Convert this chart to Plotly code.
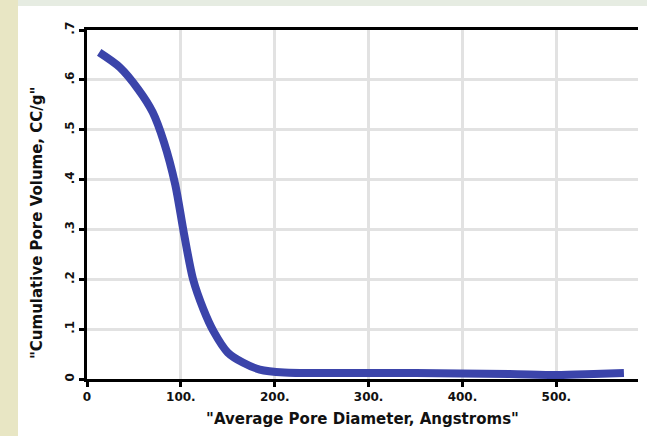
import plotly.graph_objects as go

# Data
diameter = [13, 35, 55, 70, 82, 94, 103, 113, 124, 135, 150, 166, 184, 210, 260, 350, 450, 500, 540, 572]
volume = [0.655, 0.625, 0.58, 0.535, 0.475, 0.39, 0.295, 0.20, 0.14, 0.095, 0.053, 0.033, 0.019, 0.013, 0.012, 0.012, 0.010, 0.008, 0.010, 0.012]

x_tickvals = [0, 100, 200, 300, 400, 500]
x_ticktext = ["0", "100.", "200.", "300.", "400.", "500."]
y_tickvals = [0, 0.1, 0.2, 0.3, 0.4, 0.5, 0.6, 0.7]
y_ticktext = ["0", ".1", ".2", ".3", ".4", ".5", ".6", ".7"]
x_title = '"Average Pore Diameter, Angstroms"'
y_title = '"Cumulative Pore Volume, CC/g"'

W, H = 647, 436
ml, mr, mt, mb = 87, 9, 30, 57
pw, ph = W - ml - mr, H - mt - mb

tick_font = dict(family="DejaVu Sans, sans-serif", size=12, color="#111111", weight="bold")
title_font = dict(family="DejaVu Sans, sans-serif", size=15, color="#111111", weight="bold")

fig = go.Figure()
fig.add_trace(go.Scatter(
    x=diameter, y=volume, mode="lines",
    line=dict(color="#3B44AA", width=8, shape="spline", smoothing=0.8),
    showlegend=False, hoverinfo="skip"))

def px_x(p):
    return (p - ml) / pw

def px_y(p):
    return 1 - (p - mt) / ph

shapes = [
    # left beige strip
    dict(type="rect", xref="paper", yref="paper", x0=px_x(0), x1=px_x(18), y0=px_y(H), y1=px_y(0),
         fillcolor="#E8E6C4", line=dict(width=0), layer="below"),
    # top grey-green strip
    dict(type="rect", xref="paper", yref="paper", x0=px_x(18), x1=px_x(W), y0=px_y(6), y1=px_y(0),
         fillcolor="#E6ECE2", line=dict(width=0), layer="below"),
]

annotations = [
    dict(text=y_title, xref="paper", yref="paper", x=px_x(37), y=px_y(223),
         xanchor="center", yanchor="middle", textangle=-90, showarrow=False, font=title_font),
]

fig.update_layout(
    width=W, height=H,
    margin=dict(l=ml, r=mr, t=mt, b=mb),
    paper_bgcolor="white", plot_bgcolor="white",
    font=tick_font,
    shapes=shapes,
    annotations=annotations,
    xaxis=dict(
        range=[0, 587], tickvals=x_tickvals, ticktext=x_ticktext, tickfont=tick_font,
        showline=True, linecolor="black", linewidth=3, mirror=True,
        ticks="outside", ticklen=5, tickwidth=3, tickcolor="black",
        showgrid=True, gridcolor="#E2E2E2", gridwidth=3,
        zeroline=False,
        title=dict(text=x_title, font=title_font, standoff=11),
    ),
    yaxis=dict(
        range=[0, 0.7], tickvals=y_tickvals, ticktext=y_ticktext, tickangle=-90, tickfont=tick_font,
        showline=True, linecolor="black", linewidth=3, mirror=False,
        ticks="outside", ticklen=5, tickwidth=3, tickcolor="black",
        showgrid=True, gridcolor="#E2E2E2", gridwidth=3,
        zeroline=False,
    ),
)

fig.write_html("out.html")
